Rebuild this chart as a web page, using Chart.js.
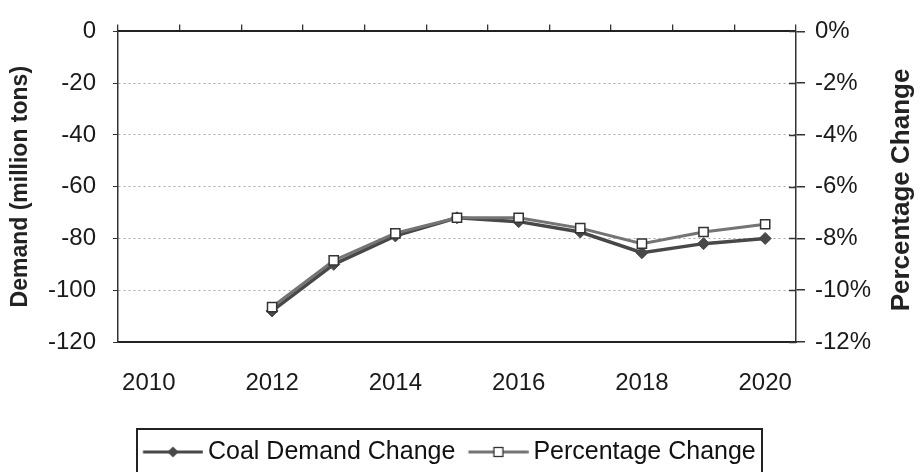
<!DOCTYPE html>
<html>
<head>
<meta charset="utf-8">
<script src="https://cdn.jsdelivr.net/npm/chart.js@4/dist/chart.umd.min.js"></script>
<style>
  html, body { margin: 0; padding: 0; background: #fff; }
  #wrap { width: 919px; height: 472px; }
</style>
</head>
<body>
<div id="wrap"><canvas id="coalChart" width="919" height="472"></canvas></div>
<script>
// data
const years = ['2010', '2011', '2012', '2013', '2014', '2015', '2016', '2017', '2018', '2019', '2020'];
const coalDemand = [null, null, -108, -90, -79, -72, -73.5, -77.5, -85.5, -82, -80];
const pctChange = [null, null, -10.65, -8.85, -7.8, -7.2, -7.2, -7.6, -8.2, -7.75, -7.45];
const demandTicks = [0, -20, -40, -60, -80, -100, -120];
const pctTicks = [0, -2, -4, -6, -8, -10, -12];

const FONT = '"Liberation Sans", Arial, sans-serif';
const COAL_COLOR = '#484848';
const PCT_COLOR = '#747474';

// legend icons: a short line with the marker in the middle
function makeIcon(kind) {
  const c = document.createElement('canvas');
  c.width = 68; c.height = 14;
  const g = c.getContext('2d');
  g.strokeStyle = kind === 'diamond' ? COAL_COLOR : PCT_COLOR;
  g.lineWidth = 3;
  g.beginPath(); g.moveTo(7.75, 7); g.lineTo(67.75, 7); g.stroke();
  const cx = 37.75, cy = 7;
  if (kind === 'diamond') {
    g.fillStyle = COAL_COLOR;
    g.beginPath();
    g.moveTo(cx, cy - 5.5); g.lineTo(cx + 5.5, cy); g.lineTo(cx, cy + 5.5); g.lineTo(cx - 5.5, cy);
    g.closePath(); g.fill();
  } else {
    g.fillStyle = '#fff';
    g.fillRect(cx - 4.5, cy - 4.5, 9, 9);
    g.strokeStyle = '#333';
    g.lineWidth = 1.3;
    g.strokeRect(cx - 4.5, cy - 4.5, 9, 9);
  }
  return c;
}
const icons = [makeIcon('diamond'), makeIcon('square')];

// legend placement and frame, inner half of the right-axis ticks,
// and the right axis title (it reads bottom-to-top like the left one)
const extras = {
  id: 'extras',
  afterLayout(chart) {
    const lg = chart.legend;
    lg.left = 143 - 13;
    lg.right = 780;
    lg.top = 426.5;
  },
  afterDraw(chart) {
    const ctx = chart.ctx;
    ctx.save();
    ctx.strokeStyle = '#222';
    ctx.lineWidth = 2;
    ctx.strokeRect(137, 429, 625, 60);

    const s = chart.scales.y1;
    ctx.strokeStyle = '#333';
    ctx.lineWidth = 1.5;
    s.ticks.forEach(t => {
      const y = Math.round(s.getPixelForValue(t.value)) + 0.5;
      ctx.beginPath(); ctx.moveTo(s.left - 7, y); ctx.lineTo(s.left, y); ctx.stroke();
    });

    ctx.translate(902, 190);
    ctx.rotate(-Math.PI / 2);
    ctx.fillStyle = '#222';
    ctx.font = 'bold 26px ' + FONT;
    ctx.textAlign = 'center';
    ctx.textBaseline = 'middle';
    ctx.fillText('Percentage Change', 0, 0);
    ctx.restore();
  }
};

new Chart(document.getElementById('coalChart'), {
  type: 'line',
  data: {
    labels: years,
    datasets: [{
      label: 'Coal Demand Change',
      data: coalDemand,
      yAxisID: 'y',
      order: 2,
      borderColor: COAL_COLOR,
      borderWidth: 3.5,
      pointStyle: 'rectRot',
      pointRadius: 6,
      pointBackgroundColor: COAL_COLOR,
      pointBorderColor: COAL_COLOR,
      pointBorderWidth: 1
    }, {
      label: 'Percentage Change',
      data: pctChange,
      yAxisID: 'y1',
      order: 1,
      borderColor: PCT_COLOR,
      borderWidth: 3,
      pointStyle: 'rect',
      pointRadius: 6.5,
      pointBackgroundColor: '#fff',
      pointBorderColor: '#333',
      pointBorderWidth: 1.5
    }]
  },
  options: {
    responsive: false,
    animation: false,
    layout: { padding: 0 },
    plugins: {
      tooltip: { enabled: false },
      legend: {
        position: 'bottom',
        align: 'start',
        labels: {
          usePointStyle: true,
          pointStyleWidth: 52.5,
          padding: 13,
          color: '#111',
          font: { family: FONT, size: 25 },
          sort: (a, b) => a.datasetIndex - b.datasetIndex,
          generateLabels(chart) {
            const items = Chart.defaults.plugins.legend.labels.generateLabels(chart);
            items.forEach(it => { it.pointStyle = icons[it.datasetIndex]; });
            return items;
          }
        }
      }
    },
    scales: {
      x: {
        type: 'category',
        position: 'bottom',
        offset: true,
        grid: { display: true, drawOnChartArea: false, drawTicks: false },
        border: { display: true, color: '#222', width: 2 },
        ticks: {
          autoSkip: false,
          maxRotation: 0,
          padding: 27,
          color: '#1a1a1a',
          font: { family: FONT, size: 24 },
          callback: (v, i) => (i % 2 === 0 ? years[i] : '')
        },
        afterFit(scale) { scale.height = 130 - scale.chart.legend.height; }
      },
      x2: {
        type: 'category',
        position: 'top',
        offset: true,
        labels: years,
        grid: { offset: true, drawOnChartArea: false, drawTicks: true, tickLength: 7, tickColor: '#333', lineWidth: 1.3 },
        border: { display: true, color: '#222', width: 2 },
        ticks: { display: false },
        afterFit(scale) { scale.height = 25; }
      },
      y: {
        position: 'left',
        min: -120,
        max: 0,
        afterBuildTicks(scale) { scale.ticks = demandTicks.map(v => ({ value: v })); },
        grid: {
          color: '#a8a8a8',
          lineWidth: 1,
          drawTicks: true,
          tickLength: 5,
          tickColor: '#333',
          tickBorderDash: []
        },
        border: { display: true, color: '#333', width: 1.5, dash: [2, 3] },
        ticks: { padding: 17, color: '#1a1a1a', font: { family: FONT, size: 24 } },
        title: {
          display: true,
          text: 'Demand (million tons)',
          color: '#222',
          font: { family: FONT, size: 23, weight: 'bold' },
          padding: { top: 7, bottom: 0 }
        },
        afterFit(scale) { scale.width = 118; }
      },
      y1: {
        position: 'right',
        min: -12,
        max: 0,
        afterBuildTicks(scale) { scale.ticks = pctTicks.map(v => ({ value: v })); },
        grid: { drawOnChartArea: false, drawTicks: true, tickLength: 9, tickColor: '#333', lineWidth: 1.5 },
        border: { display: true, color: '#333', width: 1.5 },
        ticks: { padding: 10, color: '#1a1a1a', font: { family: FONT, size: 24 }, callback: v => v + '%' },
        afterFit(scale) { scale.width = 123; }
      }
    }
  },
  plugins: [extras]
});
</script>
</body>
</html>
